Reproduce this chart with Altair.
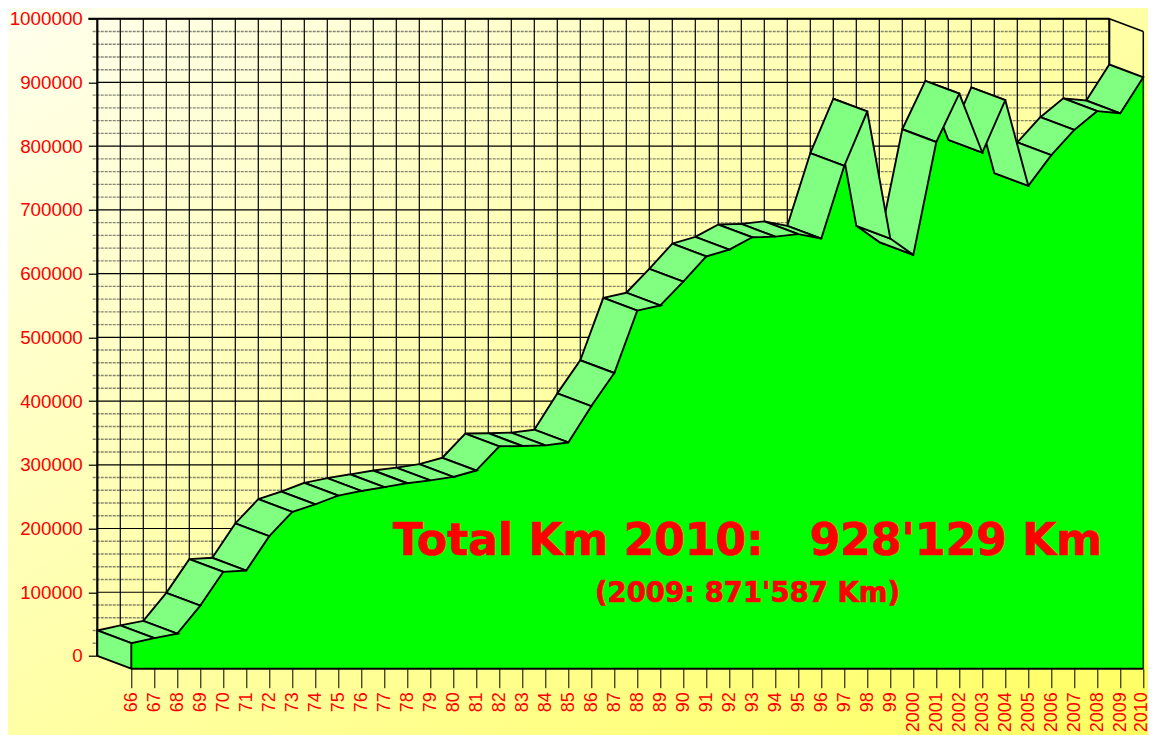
import altair as alt
import pandas as pd

year_labels = ["66","67","68","69","70","71","72","73","74","75","76","77","78","79","80","81","82","83","84","85","86","87","88","89","90","91","92","93","94","95","96","97","98","99","2000","2001","2002","2003","2004","2005","2006","2007","2008","2009","2010"]
km_values = [40000,48000,55000,99000,152000,154000,208000,246000,258000,271600,279000,285000,291000,295500,301000,311000,349000,349500,350500,355000,412000,464000,562000,570000,607500,647000,657500,677000,678000,682000,675000,789000,874400,675000,649400,826500,902500,810000,892200,757800,806000,845500,875000,871587,928129]
major_ticks = [0,100000,200000,300000,400000,500000,600000,700000,800000,900000,1000000]
minor_ticks = [v for v in range(0, 1000001, 20000) if v % 100000 != 0]
headline = "Total Km 2010:\u00a0\u00a0\u00a0928'129 Km"
subline = "(2009: 871'587 Km)"

DX = 34 / 23      # depth of the 3D box, in year steps
DY = 20000        # depth of the 3D box, in km
N = len(km_values)
LAST = N - 1

X = alt.Scale(domain=[0, 1046 / 23], nice=False, zero=False)
Y = alt.Scale(domain=[-DY, 1000000], nice=False, zero=False)

x_ticks = [i + DX for i in range(N)]
label_expr = "[" + ",".join(f"'{s}'" for s in year_labels) + "][round(datum.value - %f)]" % DX
AX = alt.Axis(
    values=x_ticks, labelExpr=label_expr, title=None, domain=False, grid=False, orient="bottom", zindex=1,
    tickSize=19, tickColor="black", tickWidth=1, labelColor="red", labelFontSize=18,
    labelFont="Liberation Sans", labelAngle=-90, labelAlign="right", labelBaseline="middle",
    labelOffset={"condition": {"test": "datum.value > 45", "value": -2}, "value": 0},
    labelPadding=4, labelOverlap=False, labelFlush=False, labelBound=False)
AY = alt.Axis(
    values=major_ticks, format="d", title=None, domain=False, grid=False, orient="left", zindex=1,
    tickSize=9, tickColor="black", tickWidth=1.2, labelColor="red", labelFontSize=18.8,
    labelFont="Liberation Sans", labelPadding=6, labelOverlap=False, labelFlush=False, labelBound=False)

xq = lambda f="x": alt.X(f"{f}:Q", scale=X, axis=AX)
yq = lambda f="y": alt.Y(f"{f}:Q", scale=Y, axis=AY)

# background
bg = alt.Chart(pd.DataFrame({"a": [0]})).mark_rect(
    color=alt.LinearGradient(gradient="linear", x1=0, y1=0, x2=1, y2=1,
        stops=[alt.GradientStop(offset=0, color="#FFFFEE"),
               alt.GradientStop(offset=0.5, color="#FFFFA6"),
               alt.GradientStop(offset=1, color="#FFFF60")])
).encode(x=alt.value(-89.3), x2=alt.value(1050.7), y=alt.value(-10.7), y2=alt.value(716.3))

# major grid
major_df = pd.DataFrame({"y": major_ticks, "x": [0.0] * len(major_ticks), "x2": [float(LAST)] * len(major_ticks)})
major = alt.Chart(major_df).mark_rule(color="black", strokeWidth=1.2).encode(x=xq(), x2="x2:Q", y=yq())

minor_df = pd.DataFrame({"y": minor_ticks, "x": [-0.2] * len(minor_ticks), "x2": [float(LAST)] * len(minor_ticks)})
minor = alt.Chart(minor_df).mark_rule(color="#444444", strokeWidth=1.4, strokeDash=[3, 1], opacity=0.65).encode(
    x=xq(), x2="x2:Q", y=yq())

vert_df = pd.DataFrame({"x": [float(i) for i in range(1, N)], "y": [0] * (N - 1), "y2": [1000000] * (N - 1)})
vert = alt.Chart(vert_df).mark_rule(color="black", strokeWidth=1.2).encode(x=xq(), y=yq(), y2="y2:Q")

# outer walls
walls_df = pd.DataFrame({
    "x":  [0.0, float(LAST), float(LAST), LAST + DX],
    "x2": [0.0, float(LAST), LAST + DX, LAST + DX],
    "y":  [0, 900000, 1000000, 1000000 - DY],
    "y2": [1000000, 1000000, 1000000 - DY, km_values[-1] - DY],
    "w":  [2.2, 2, 1.6, 1.5],
})
walls = alt.Chart(walls_df).mark_rule(color="black").encode(
    x=xq(), x2="x2:Q", y=yq(), y2="y2:Q", strokeWidth=alt.StrokeWidth("w:Q", scale=None))
top = alt.Chart(pd.DataFrame({"y": [1000000], "x": [-0.39], "x2": [float(LAST)]})).mark_rule(
    color="black", strokeWidth=2).encode(x=xq(), x2="x2:Q", y=yq())

# green front face
front_df = pd.DataFrame({"x": x_ticks, "y": [v - DY for v in km_values], "base": [-DY] * N})
front = alt.Chart(front_df).mark_area(color="#00FF00", opacity=1).encode(x=xq(), y=yq(), y2="base:Q")
right_edge = alt.Chart(pd.DataFrame({"x": [LAST + DX], "y": [-DY], "y2": [km_values[-1] - DY]})).mark_rule(
    color="#0a2a00", strokeWidth=1.6).encode(x=xq(), y=yq(), y2="y2:Q")
baseline = alt.Chart(pd.DataFrame({"x": [DX], "x2": [LAST + DX], "y": [-DY]})).mark_rule(
    color="black", strokeWidth=2).encode(x=xq(), x2="x2:Q", y=yq())

# ribbon facets, painted from right to left, then the left side face
rows = []
seg = 0
for i in range(LAST - 1, -1, -1):
    a, b = km_values[i], km_values[i + 1]
    pts = [(i, a), (i + 1, b), (i + 1 + DX, b - DY), (i + DX, a - DY), (i, a)]
    for k, (px, py) in enumerate(pts):
        rows.append({"seg": f"s{seg:03d}", "ord": k, "x": px, "y": py})
    seg += 1
side = [(0, 0), (0, km_values[0]), (DX, km_values[0] - DY), (DX, -DY), (0, 0)]
for k, (px, py) in enumerate(side):
    rows.append({"seg": f"s{seg:03d}", "ord": k, "x": px, "y": py})
ribbon = alt.Chart(pd.DataFrame(rows)).mark_line(
    fill="#80FF80", stroke="black", strokeWidth=1.9, strokeJoin="miter", interpolate="linear"
).encode(x=xq(), y=yq(), detail="seg:N", order="ord:Q")

# captions
text_df = pd.DataFrame({"t": [headline, subline], "x": [28.27, 28.27], "y": [158500, 85200], "s": [44, 27.5]})
captions = alt.Chart(text_df).mark_text(
    color="red", font="DejaVu Sans", fontWeight="bold", align="center", baseline="alphabetic",
    stroke="red", strokeWidth=0.7
).encode(x=xq(), y=yq(), text="t:N", size=alt.Size("s:Q", scale=None, legend=None))

chart = alt.layer(bg, major, minor, vert, walls, top, front, right_edge, baseline, ribbon, captions).properties(
    width=1046, height=650,
    padding={"left": 89.3, "top": 10.7, "right": 4.7, "bottom": 66.3},
    autosize=alt.AutoSizeParams(type="none"),
).configure_view(stroke=None).configure_axis(grid=False)

chart.save("out.html", embed_options={"renderer": "svg", "actions": False})
